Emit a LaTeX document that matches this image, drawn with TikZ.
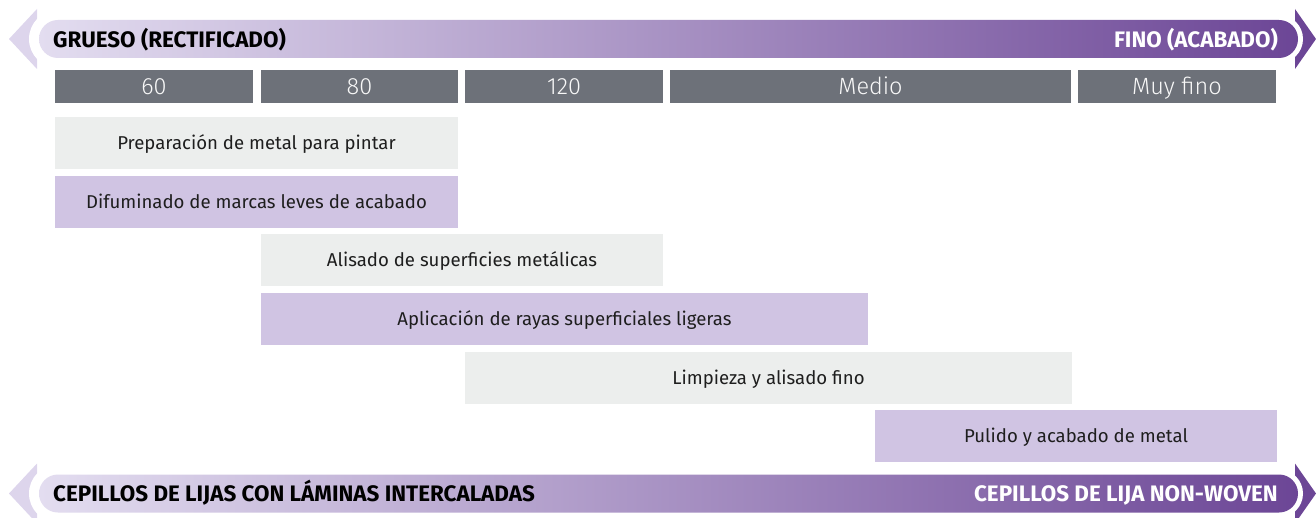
\documentclass[tikz,border=0pt]{standalone}
\usepackage{fontspec}
\setmainfont{Fira Sans}
\newfontfamily\lightfont{Fira Sans Light}
\definecolor{hdr}{HTML}{6D7179}
\definecolor{lgray}{HTML}{ECEEED}
\definecolor{lpurp}{HTML}{D0C4E3}
\definecolor{bandL}{HTML}{E3DDF0}
\definecolor{bandR}{HTML}{6C4696}
\definecolor{txt}{HTML}{1E1E1E}
\begin{document}
\begin{tikzpicture}[x=1pt,y=-1pt,
  hdrbox/.style={fill=hdr, text=white!95!hdr, inner sep=0pt, minimum height=33pt,
    text height=16pt, text depth=0pt,
    font=\lightfont\fontsize{23.5}{27}\selectfont},
  rowbox/.style={inner sep=0pt, minimum height=52pt, text=txt,
    text height=13pt, text depth=0pt,
    font=\fontsize{18.6}{22}\selectfont},
  grayrow/.style={rowbox, fill=lgray},
  purprow/.style={rowbox, fill=lpurp},
  bandtext/.style={inner sep=0pt, text height=15.4pt, text depth=0pt,
    font=\bfseries\fontsize{22.4}{26}\selectfont},
  bandbar/.style={rounded corners=19pt, left color=bandL, right color=bandR}
]
\useasboundingbox (0,0) rectangle (1316,518);
\clip (0,0) rectangle (1316,518);

% ---------- top band ----------
\fill[bandL!95!bandR] (9,39) -- (37,9) -- (37,69) -- cycle;
\fill[bandR] (1316,39) -- (1295,9) -- (1295,69) -- cycle;
\fill[white] (58,39) circle (29);
\fill[white] (1279,39) circle (24);
\shade[bandbar] (39,20) rectangle (1298,58);
\node[bandtext, anchor=west, text=black] (topL) at (53,40) {GRUESO (RECTIFICADO)};
\node[bandtext, anchor=east, text=white] (topR) at (1278,40) {FINO (ACABADO)};

% ---------- header boxes ----------
\node[hdrbox, minimum width=198pt] (g60) at (154,86.5) {60};
\node[hdrbox, minimum width=197pt] (g80) at (359.5,86.5) {80};
\node[hdrbox, minimum width=198pt] (g120) at (564,86.5) {120};
\node[hdrbox, minimum width=401pt] (gmed) at (870.5,86.5) {Medio};
\node[hdrbox, minimum width=198pt] (gmuy) at (1177,86.5) {Muy fino};

% ---------- application rows ----------
\node[grayrow, minimum width=403pt] (prep) at (256.5,143) {Preparación de metal para pintar};
\node[purprow, minimum width=403pt] (difu) at (256.5,202) {Difuminado de marcas leves de acabado};
\node[grayrow, minimum width=402pt] (alis) at (462,260) {Alisado de superficies metálicas};
\node[purprow, minimum width=607pt] (apli) at (564.5,319) {Aplicación de rayas superficiales ligeras};
\node[grayrow, minimum width=607pt] (limp) at (768.5,378) {Limpieza y alisado fino};
\node[purprow, minimum width=402pt] (puli) at (1076,436) {Pulido y acabado de metal};

% ---------- bottom band ----------
\fill[bandL!95!bandR] (9,493.5) -- (37,463.5) -- (37,523.5) -- cycle;
\fill[bandR] (1316,493.5) -- (1295,463.5) -- (1295,523.5) -- cycle;
\fill[white] (58,493.5) circle (29);
\fill[white] (1279,493.5) circle (24);
\shade[bandbar] (39,474.5) rectangle (1298,512.5);
\node[bandtext, anchor=west, text=black] (botL) at (53,494) {CEPILLOS DE LIJAS CON LÁMINAS INTERCALADAS};
\node[bandtext, anchor=east, text=white] (botR) at (1278,494) {CEPILLOS DE LIJA NON-WOVEN};
\end{tikzpicture}
\end{document}
